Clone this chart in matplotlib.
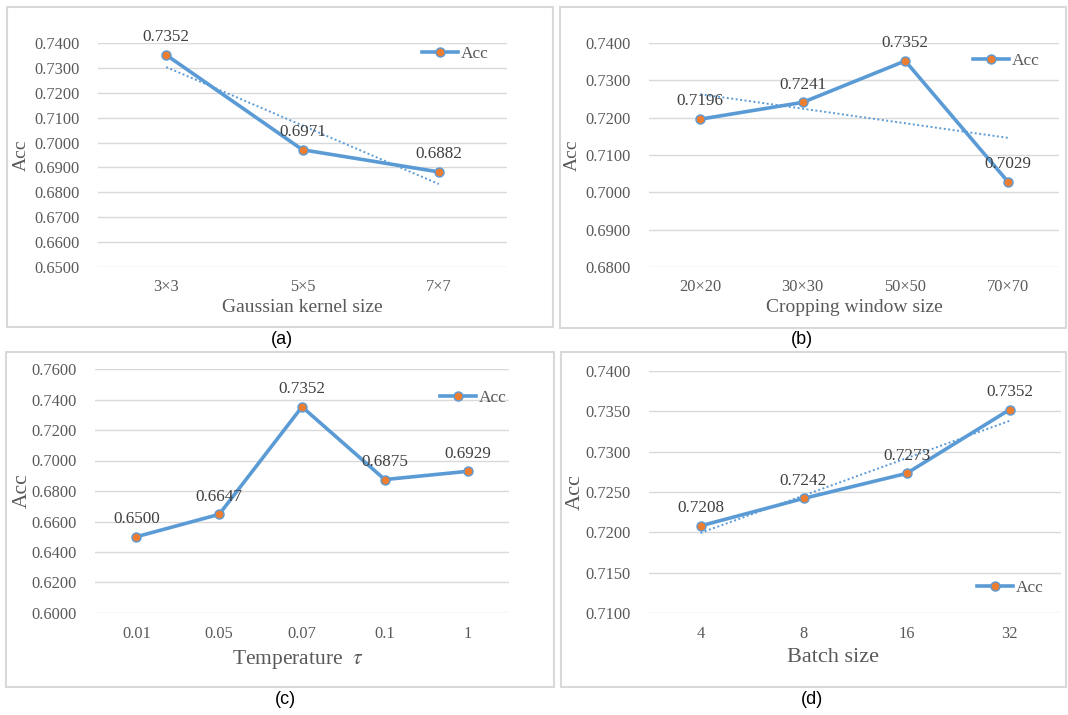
import numpy as np
import matplotlib.pyplot as plt
from matplotlib.patches import Rectangle

plt.rcParams['font.family'] = ['Liberation Serif', 'DejaVu Serif']
plt.rcParams['mathtext.fontset'] = 'stix'

# data
kernel_labels = ['3×3', '5×5', '7×7']
kernel_acc = [0.7352, 0.6971, 0.6882]

crop_labels = ['20×20', '30×30', '50×50', '70×70']
crop_acc = [0.7196, 0.7241, 0.7352, 0.7029]

temp_labels = ['0.01', '0.05', '0.07', '0.1', '1']
temp_acc = [0.6500, 0.6647, 0.7352, 0.6875, 0.6929]

batch_labels = ['4', '8', '16', '32']
batch_acc = [0.7208, 0.7242, 0.7273, 0.7352]

W, H = 1068, 715
blue = '#5B9BD5'
orange = '#ED7D31'
grid_c = '#D9D9D9'
tick_c = '#595959'
lab_c = '#404040'

fig = plt.figure(figsize=(W / 100, H / 100), dpi=100)


def px_axes(l, r, t, b):
    return fig.add_axes([l / W, 1 - b / H, (r - l) / W, (b - t) / H])


def box(l, r, t, b):
    fig.patches.append(Rectangle((l / W, 1 - b / H), (r - l) / W, (b - t) / H,
                                 transform=fig.transFigure, fill=False,
                                 edgecolor=grid_c, lw=1.5))


def panel(ax, labels, vals, ylim, step, xlabel, trend, leg, ylab_x,
          tfs=11.8, lfs=14, dfs=12.3, xlab_x=0.5):
    x = np.arange(len(vals))
    ax.set_xlim(-0.5, len(vals) - 0.5)
    ax.set_ylim(*ylim)
    ax.set_yticks(np.arange(ylim[0], ylim[1] + step / 2, step))
    ax.yaxis.set_major_formatter(plt.FormatStrFormatter('%.4f'))
    ax.set_xticks(x)
    ax.set_xticklabels(labels)
    ax.tick_params(length=0, colors=tick_c, labelsize=tfs)
    ax.tick_params(axis='y', pad=13)
    ax.tick_params(axis='x', pad=9)
    for s in ax.spines.values():
        s.set_visible(False)
    ax.grid(axis='y', color=grid_c, lw=1)
    ax.set_axisbelow(True)

    if trend:
        k, c = np.polyfit(x, vals, 1)
        ax.plot(x, k * x + c, color=blue, lw=1.4, linestyle=(0, (1, 1.3)), zorder=2)

    ax.plot(x, vals, color=blue, lw=2.6, marker='o', markersize=6.5,
            markerfacecolor=orange, markeredgecolor=blue, markeredgewidth=1,
            label='Acc', zorder=3)
    for xi, v in zip(x, vals):
        ax.annotate('%.4f' % v, (xi, v), xytext=(0, 7), textcoords='offset points',
                    ha='center', va='bottom', fontsize=dfs, color=lab_c, zorder=4)

    ax.set_xlabel(xlabel, fontsize=lfs, color=tick_c)
    ax.xaxis.set_label_coords(xlab_x, -0.143)
    ax.set_ylabel('Acc', fontsize=lfs, color=tick_c)
    ax.yaxis.set_label_coords(ylab_x, 0.5)

    ax.legend(loc='center left', bbox_to_anchor=leg, frameon=False, borderpad=0,
              borderaxespad=0, handlelength=2.1, handletextpad=0.15,
              fontsize=12.5, labelcolor=tick_c)


# frames around each chart
box(7, 553, 7, 327)
box(560, 1066, 7, 328)
box(6, 554, 352, 687)
box(561, 1066, 352, 687)

ax_a = px_axes(98, 507, 43, 267)
panel(ax_a, kernel_labels, kernel_acc, (0.65, 0.74), 0.01, 'Gaussian kernel size',
      True, (0.792, 0.951), -0.166)

ax_b = px_axes(649, 1059, 43, 267)
panel(ax_b, crop_labels, crop_acc, (0.68, 0.74), 0.01, 'Cropping window size',
      True, (0.790, 0.920), -0.166)

ax_c = px_axes(95, 509, 369, 613)
panel(ax_c, temp_labels, temp_acc, (0.60, 0.76), 0.02, 'Temperature  $\\tau$',
      False, (0.833, 0.881), -0.152, lfs=15.5, xlab_x=0.49)

ax_d = px_axes(649, 1061, 371, 613)
panel(ax_d, batch_labels, batch_acc, (0.71, 0.74), 0.005, 'Batch size',
      True, (0.796, 0.103), -0.155, lfs=16, xlab_x=0.447)

for txt, cx, cy in [('(a)', 282, 340), ('(b)', 802, 340), ('(c)', 285, 700), ('(d)', 812, 700)]:
    fig.text(cx / W, 1 - cy / H, txt, ha='center', va='center', fontsize=13,
             family=['Liberation Sans', 'DejaVu Sans'], color='black')

plt.savefig('out.png', dpi=100)
